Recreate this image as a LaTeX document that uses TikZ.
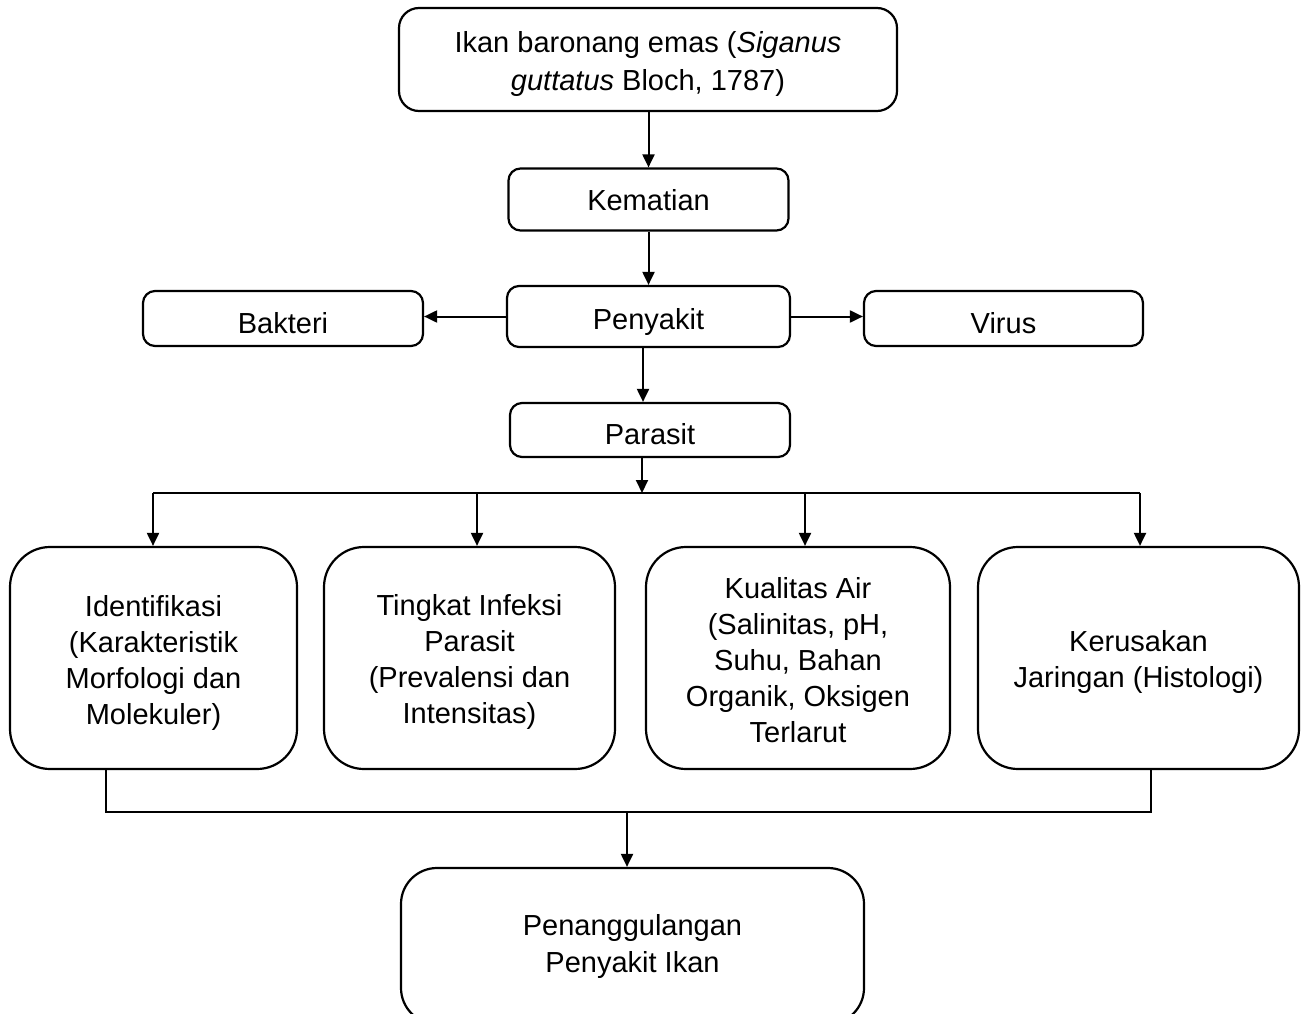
\documentclass[tikz,border=0pt]{standalone}
\usepackage{fontspec}
\setmainfont{Liberation Sans}
\usetikzlibrary{arrows.meta}
\begin{document}
\begin{tikzpicture}[x=1pt,y=-1pt,
  box/.style={draw, line width=2.2pt, inner sep=0pt},
  txt/.style={align=center, inner sep=0pt, font=\fontsize{29}{36}\selectfont},
  arr/.style={line width=2pt, -{Triangle[length=13pt,width=12pt]}},
  ln/.style={line width=1.8pt}]
\useasboundingbox (0,0) rectangle (1303,1014);
% boxes
\node[box, minimum width=498pt, minimum height=103pt, rounded corners=20pt] (top) at (648,59.5) {};
\node[box, minimum width=280pt, minimum height=62pt, rounded corners=12pt] (kem) at (648.5,199.5) {};
\node[box, minimum width=283pt, minimum height=61pt, rounded corners=12pt] (pen) at (648.5,316.5) {};
\node[box, minimum width=280pt, minimum height=55pt, rounded corners=12pt] (bak) at (283,318.5) {};
\node[box, minimum width=279pt, minimum height=55pt, rounded corners=12pt] (vir) at (1003.5,318.5) {};
\node[box, minimum width=280pt, minimum height=54pt, rounded corners=12pt] (par) at (650,430) {};
\node[box, minimum width=287pt, minimum height=222pt, rounded corners=40pt] (b1) at (153.5,658) {};
\node[box, minimum width=291pt, minimum height=222pt, rounded corners=40pt] (b2) at (469.5,658) {};
\node[box, minimum width=304pt, minimum height=222pt, rounded corners=40pt] (b3) at (798,658) {};
\node[box, minimum width=321pt, minimum height=222pt, rounded corners=40pt] (b4) at (1138.5,658) {};
\node[box, minimum width=463pt, minimum height=156pt, rounded corners=36pt] (bot) at (632.5,946) {};
% texts
\node[txt, font=\fontsize{29}{38}\selectfont] (topt) at ([yshift=-5pt]top.center) {Ikan baronang emas (\textit{Siganus}\\\textit{guttatus} Bloch, 1787)};
\node[txt] (kemt) at ([yshift=-0.5pt]kem.center) {Kematian};
\node[txt] (pent) at ([yshift=-5pt]pen.center) {Penyakit};
\node[txt] (bakt) at ([yshift=-4.5pt]bak.center) {Bakteri};
\node[txt] (virt) at ([yshift=-4.5pt]vir.center) {Virus};
\node[txt] (part) at ([yshift=-4pt]par.center) {Parasit};
\node[txt] (b1t) at ([yshift=-5pt]b1.center) {Identifikasi\\(Karakteristik\\Morfologi dan\\Molekuler)};
\node[txt] (b2t) at ([yshift=-4pt]b2.center) {Tingkat Infeksi\\Parasit\\(Prevalensi dan\\Intensitas)};
\node[txt] (b3t) at ([yshift=-2.5pt]b3.center) {Kualitas Air\\(Salinitas, pH,\\Suhu, Bahan\\Organik, Oksigen\\Terlarut};
\node[txt] (b4t) at ([yshift=-3.5pt]b4.center) {Kerusakan\\Jaringan (Histologi)};
\node[txt, font=\fontsize{29}{37}\selectfont] (bott) at (bot.center) {Penanggulangan\\Penyakit Ikan};
% top chain
\coordinate (xp) at (643,0);
\draw[arr] (top.south -| kem.north) -- (kem.north);
\draw[arr] (kem) -- (pen);
\draw[arr] (pen.west) -- (bak.east |- pen.west);
\draw[arr] (pen.east) -- (vir.west |- pen.east);
\draw[arr] (pen.south -| xp) -- (par.north -| xp);
% branch
\coordinate (jp) at (642,493);
\coordinate (j1) at (153,493);
\coordinate (j2) at (477,493);
\coordinate (j3) at (805,493);
\coordinate (j4) at (1140,493);
\draw[arr] (par.south -| jp) -- (jp);
\draw[ln] (j1) -- (j4);
\draw[arr] (j1) -- (j1 |- b1.north);
\draw[arr] (j2) -- (j2 |- b2.north);
\draw[arr] (j3) -- (j3 |- b3.north);
\draw[arr] (j4) -- (j4 |- b4.north);
% merge
\coordinate (m1) at (106,812);
\coordinate (m4) at (1151,812);
\coordinate (mc) at (627,812);
\draw[ln] (b1.south -| m1) -- (m1) -- (m4) -- (b4.south -| m4);
\draw[arr] (mc) -- (mc |- bot.north);
\end{tikzpicture}
\end{document}
